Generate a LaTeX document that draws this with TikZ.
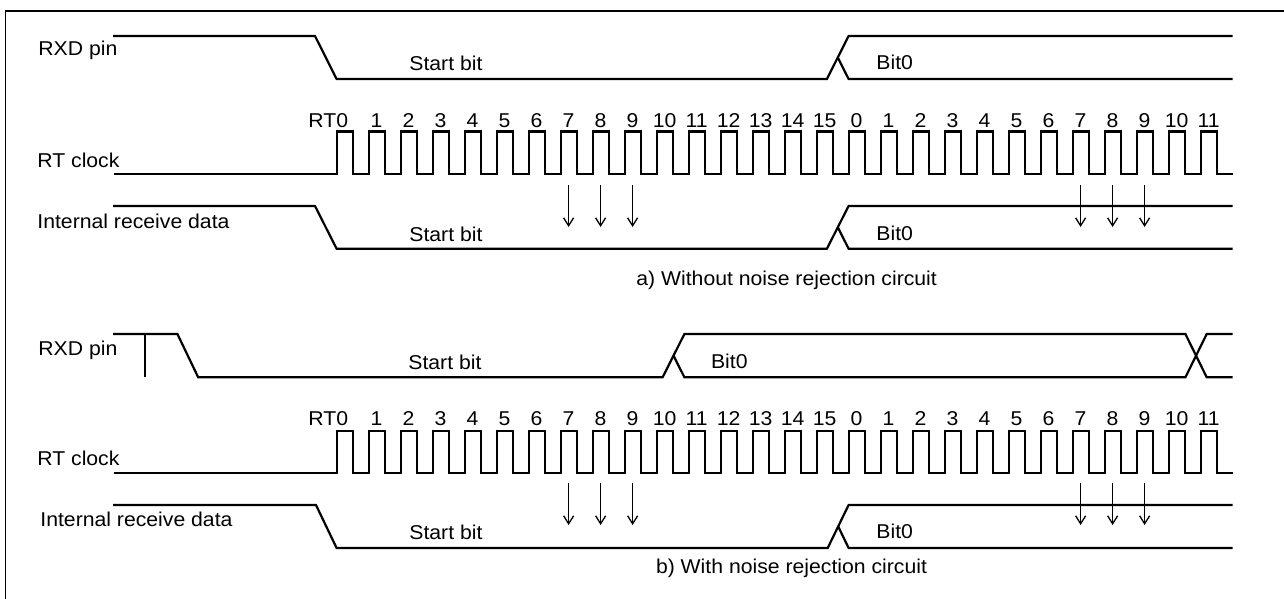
\documentclass[tikz,border=0pt]{standalone}
\usepackage{fontspec}
\setmainfont{Liberation Sans}[FakeStretch=1.06]
\usetikzlibrary{arrows.meta}

% RT clock: #1 low level, #2 label baseline, #3 name prefix
\newcommand{\rtclock}[3]{%
  \draw[sig] (114,#1) -- (336.6,#1)
    \foreach \k in {1,...,28} { -- ++(0,-42.5) -- ++(16,0) -- ++(0,42.5) -- ++(16,0) };
  \node[num,anchor=base east] (#30) at (348.5,#2) {RT0};
  \foreach \lab [count=\k] in {1,2,...,15,0,1,...,11}
    \node[num] (#3\k) at ({344.6+32*\k},#2) {\lab};
}

\begin{document}
\begin{tikzpicture}[
    x=0.5pt, y=-0.5pt,
    sig/.style={line width=1.1pt, line join=miter},
    txt/.style={font=\fontsize{10}{12}\selectfont, anchor=base west, inner sep=0pt},
    num/.style={font=\fontsize{10}{12}\selectfont, anchor=base, inner sep=0pt},
    samp/.style={-{Straight Barb[length=4pt,width=5pt]}, line width=0.65pt}
  ]
  \useasboundingbox (0,0) rectangle (1284,599);
  \draw[line width=0.75pt] (5.5,599) -- (5.5,11) -- (1284,11);

  % a) without noise rejection
  \node[txt] (rxdA) at (38,56) {RXD pin};
  \draw[sig] (113,36) -- (315,36) -- (336.6,79) -- (826.9,79) -- (848.6,36) -- (1232.6,36);
  \draw[sig] (837.8,57.5) -- (848.6,79) -- (1232.6,79);
  \node[txt] (startA) at (409,71) {Start bit};
  \node[txt] (bitA) at (876,70) {Bit0};

  \node[txt] (clkA) at (37,167) {RT clock};
  \rtclock{174}{127}{tA}

  \node[txt] (irdA) at (37,228) {Internal receive data};
  \draw[sig] (113,206) -- (315,206) -- (336.6,248.7) -- (826.9,248.7) -- (848.6,206) -- (1232.6,206);
  \draw[sig] (837.8,227.3) -- (848.6,248.7) -- (1232.6,248.7);
  \node[txt] (istartA) at (409,241) {Start bit};
  \node[txt] (ibitA) at (876,240) {Bit0};

  \foreach \x [count=\n] in {568.6,600.6,632.6,1080.6,1112.6,1144.6} {
    \coordinate (pA\n) at (\x,185);
    \coordinate (qA\n) at (\x,227);
    \draw[samp] (pA\n) -- (qA\n);
  }
  \node[txt] (capA) at (636,285) {a) Without noise rejection circuit};

  % b) with noise rejection
  \node[txt] (rxdB) at (38,355) {RXD pin};
  \draw[sig] (113,334) -- (177.4,334) -- (198.2,377.3) -- (662.6,377.3) -- (684.4,334)
    -- (1185.4,334) -- (1206.7,377.3) -- (1232.6,377.3);
  \draw[sig] (673.5,355.7) -- (684.4,377.3) -- (1185.4,377.3) -- (1206.7,334) -- (1232.6,334);
  \draw[sig] (145,334) -- (145,377.3);
  \node[txt] (startB) at (408,369) {Start bit};
  \node[txt] (bitB) at (710.6,368) {Bit0};

  \node[txt] (clkB) at (37,465.7) {RT clock};
  \rtclock{473.3}{425}{tB}

  \node[txt] (irdB) at (40,526.7) {Internal receive data};
  \draw[sig] (113,505) -- (316,505) -- (336.6,548) -- (827.7,548) -- (848.6,505) -- (1232.6,505);
  \draw[sig] (838.2,526.5) -- (848.6,548) -- (1232.6,548);
  \node[txt] (istartB) at (409,539) {Start bit};
  \node[txt] (ibitB) at (876,538) {Bit0};

  \foreach \x [count=\n] in {568.6,600.6,632.6,1080.6,1112.6,1144.6} {
    \coordinate (pB\n) at (\x,483);
    \coordinate (qB\n) at (\x,525);
    \draw[samp] (pB\n) -- (qB\n);
  }
  \node[txt] (capB) at (655.6,573) {b) With noise rejection circuit};
\end{tikzpicture}
\end{document}
